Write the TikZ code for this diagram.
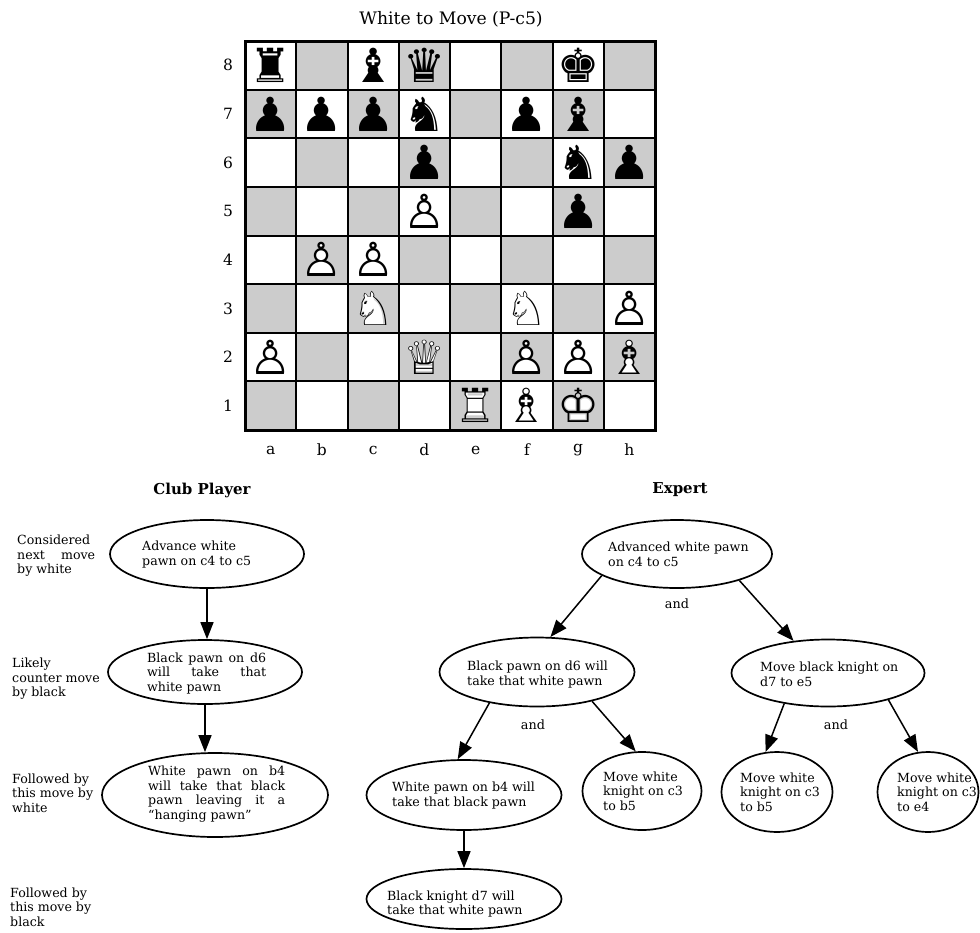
\documentclass[tikz,border=0pt]{standalone}
\usepackage{fontspec}
\setmainfont{DejaVu Serif}
\newfontfamily\chessfont{DejaVu Sans}
\usetikzlibrary{shapes.geometric,arrows.meta}
\newcommand\jl[2]{\makebox[#1][s]{#2}}
\tikzset{
  oval/.style={draw, ellipse, line width=1.7pt, inner sep=0pt},
  txt/.style={font=\fontsize{12.6}{14.5}\selectfont, inner sep=0pt, align=left, anchor=west},
  andlbl/.style={font=\fontsize{12.8}{14.5}\selectfont, inner sep=0pt},
  head/.style={font=\fontsize{15}{17}\selectfont\bfseries, inner sep=0pt},
  coord/.style={font=\fontsize{15.5}{17}\selectfont, inner sep=0pt},
  arr/.style={line width=1.5pt, -{Triangle[length=17pt,width=13pt]}},
  dark/.style={fill=black!20},
  piece/.style={font=\chessfont\fontsize{47}{47}\selectfont, inner sep=0pt},
}
\begin{document}
\begin{tikzpicture}[x=1pt,y=-1pt]
\fill[white] (0,0) rectangle (980,932);
\useasboundingbox (0,0) rectangle (980,932);

% ---------- title ----------
\node[font=\fontsize{17.2}{19}\selectfont, inner sep=0pt] (title) at (451,19) {White to Move (P-c5)};

% ---------- board ----------
\foreach \f in {1,...,8}{
  \foreach \r [evaluate=\r as \m using {int(mod(\f+\r,2))}] in {1,...,8}{
    \ifnum\m=0
      \fill[dark] ({245+(\f-1)*51.25},{430-(\r-1)*48.625}) rectangle ++(51.25,-48.625);
    \fi
  }
}
\foreach \i in {1,...,7}{
  \draw[line width=2pt] ({245+\i*51.25},41) -- ({245+\i*51.25},430);
  \draw[line width=2pt] (245,{41+\i*48.625}) -- (655,{41+\i*48.625});
}
\draw[line width=3pt] (245,41) rectangle (655,430);

\foreach \r in {1,...,8}{
  \node[coord] (rank\r) at (228,{430-(\r-0.5)*48.625}) {\r};
}
\foreach \f/\l in {1/a,2/b,3/c,4/d,5/e,6/f,7/g,8/h}{
  \node[coord] (file\l) at ({245+(\f-0.5)*51.25},450) {\l};
}

% black pieces
\foreach \f/\r/\g in {1/8/♜,3/8/♝,4/8/♛,7/8/♚,1/7/♟,2/7/♟,3/7/♟,4/7/♞,6/7/♟,7/7/♝,4/6/♟,7/6/♞,8/6/♟,7/5/♟}{
  \node[piece] (bp\f\r) at ({245+(\f-0.5)*51.25},{430-(\r-0.5)*48.625}) {\g};
}
% white pieces (filled white underneath)
\foreach \f/\r/\g/\b in {4/5/♙/♟,2/4/♙/♟,3/4/♙/♟,3/3/♘/♞,6/3/♘/♞,8/3/♙/♟,1/2/♙/♟,4/2/♕/♛,6/2/♙/♟,7/2/♙/♟,8/2/♗/♝,5/1/♖/♜,6/1/♗/♝,7/1/♔/♚}{
  \node[piece,text=white] (wu\f\r) at ({245+(\f-0.5)*51.25},{430-(\r-0.5)*48.625}) {\b};
  \node[piece] (wp\f\r) at ({245+(\f-0.5)*51.25},{430-(\r-0.5)*48.625}) {\g};
}

% ---------- headings ----------
\node[head] (club) at (202,490) {Club Player};
\node[head] (expert) at (680,490) {Expert};

% ---------- left labels ----------
\node[txt] (lab1) at (17,556) {Considered\\\jl{78pt}{next move}\\by white};
\node[txt] (lab2) at (12,679) {Likely\\counter move\\by black};
\node[txt] (lab3) at (12,793) {Followed by\\this move by\\white};
\node[txt] (lab4) at (10,907) {Followed by\\this move by\\black};

% ---------- club player tree ----------
\node[oval, minimum width=194pt, minimum height=68pt] (c1) at (207,554) {};
\node[txt] (c1t) at (142,554.5) {Advance white\\pawn on c4 to c5};
\node[oval, minimum width=194pt, minimum height=64pt] (c2) at (205,672) {};
\node[txt] (c2t) at (147,673.5) {\jl{119pt}{Black pawn on d6}\\\jl{119pt}{will take that}\\white pawn};
\node[oval, minimum width=226pt, minimum height=84pt] (c3) at (215,795) {};
\node[txt] (c3t) at (148,794) {\jl{137pt}{White pawn on b4}\\\jl{137pt}{will take that black}\\\jl{137pt}{pawn leaving it a}\\“hanging pawn”};

\draw[arr] (c1.south) -- (c1.south |- c2.north);
\draw[arr] (c2.south) -- (c2.south |- c3.north);

% ---------- expert tree ----------
\node[oval, minimum width=190pt, minimum height=68pt] (r) at (677,554) {};
\node[txt] (rt) at (608,554.5) {Advanced white pawn\\on c4 to c5};
\node[andlbl] (and1) at (677,604) {and};

\node[oval, minimum width=195pt, minimum height=69pt] (b) at (537,672) {};
\node[txt] (bt) at (467,674.5) {Black pawn on d6 will\\take that white pawn};
\node[andlbl] (and2) at (533,725) {and};

\node[oval, minimum width=193pt, minimum height=67pt] (cc) at (828,673) {};
\node[txt] (cct) at (760,674.5) {Move black knight on\\d7 to e5};
\node[andlbl] (and3) at (836,725) {and};

\node[oval, minimum width=195pt, minimum height=70pt] (d) at (464,795) {};
\node[txt] (dt) at (392,795.5) {White pawn on b4 will\\take that black pawn};

\node[oval, minimum width=119pt, minimum height=78pt] (e) at (642,791) {};
\node[txt] (et) at (603,791) {Move white\\knight on c3\\to b5};

\node[oval, minimum width=111pt, minimum height=80pt] (g) at (777,792) {};
\node[txt] (gt) at (740,792) {Move white\\knight on c3\\to b5};

\node[oval, minimum width=101pt, minimum height=80pt] (h) at (928,792) {};
\node[txt] (ht) at (897,792) {Move white\\knight on c3\\to e4};

\node[oval, minimum width=195pt, minimum height=60pt] (f) at (464,899) {};
\node[txt] (ft) at (387,904) {Black knight d7 will\\take that white pawn};

\draw[arr] (r.196) -- (b.69);
\draw[arr] (r.-23) -- (cc.137);
\draw[arr] (b.213) -- (d.100);
\draw[arr] (b.-28) -- (e.99);
\draw[arr] (cc.215) -- (g.106);
\draw[arr] (cc.-24) -- (h.104);
\draw[arr] (d.south) -- (f.north);
\end{tikzpicture}
\end{document}
